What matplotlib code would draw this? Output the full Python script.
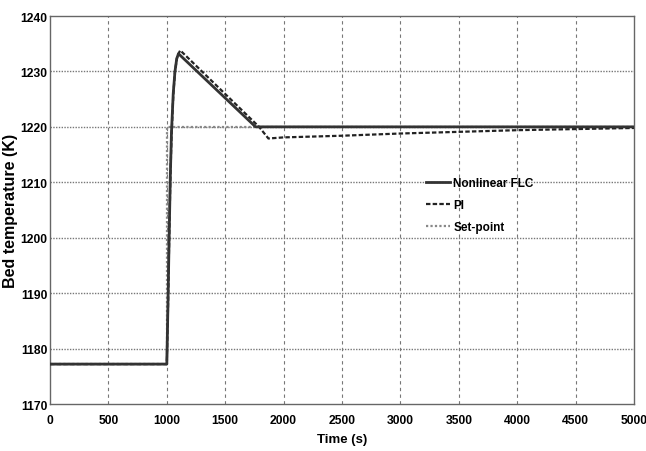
import matplotlib
matplotlib.use("Agg")
import matplotlib.pyplot as plt

plt.rcParams["font.family"] = ["Liberation Sans", "DejaVu Sans"]
plt.rcParams["font.weight"] = "bold"

# Bed temperature responses (time in s, temperature in K)
flc_time = [0, 1000, 1010, 1020, 1030, 1040, 1055, 1070, 1085, 1100, 1760, 5000]
flc_temp = [1177.2, 1177.2, 1188, 1200, 1211, 1219, 1226, 1230, 1232.3, 1233.2, 1220, 1220]

pi_time = [0, 1000, 1010, 1020, 1030, 1040, 1055, 1070, 1090, 1115, 1790, 1870,
           2000, 2500, 3000, 3500, 4000, 4500, 5000]
pi_temp = [1177.2, 1177.2, 1187, 1199, 1210, 1218, 1225.5, 1230, 1232.8, 1233.8, 1220, 1217.9,
           1218.1, 1218.4, 1218.8, 1219.1, 1219.4, 1219.6, 1219.8]

sp_time = [0, 1000, 1000, 5000]
sp_temp = [1177.2, 1177.2, 1220, 1220]

xticks = [0, 500, 1000, 1500, 2000, 2500, 3000, 3500, 4000, 4500, 5000]
yticks = [1170, 1180, 1190, 1200, 1210, 1220, 1230, 1240]

fig = plt.figure(figsize=(6.46, 4.52), dpi=100)
ax = fig.add_axes([50 / 646, 47 / 452, 584 / 646, 388 / 452])

# grid: dashed verticals, dotted horizontals
for x in xticks[1:-1]:
    ax.axvline(x, color="#777777", linestyle=(0, (3, 3)), linewidth=0.8, zorder=0)
for y in yticks[1:-1]:
    ax.axhline(y, color="#777777", linestyle=(0, (1, 1)), linewidth=1.0, zorder=0)

ax.plot(sp_time, sp_temp, color="#888888", linestyle=(0, (1, 1)), linewidth=1.6,
        label="Set-point", zorder=2)
ax.plot(pi_time, pi_temp, color="#222222", linestyle=(0, (2, 1)), linewidth=1.6,
        label="PI", zorder=3)
ax.plot(flc_time, flc_temp, color="#333333", linestyle="-", linewidth=2.0,
        label="Nonlinear FLC", zorder=4)

ax.set_xlim(0, 5000)
ax.set_ylim(1170, 1240)
ax.set_xticks(xticks)
ax.set_yticks(yticks)
ax.tick_params(direction="in", length=0, labelsize=8.7)
ax.tick_params(axis="x", pad=7.5)
ax.tick_params(axis="y", pad=2)
for s in ax.spines.values():
    s.set_color("#666666")
    s.set_linewidth(1.0)

ax.set_xlabel("Time (s)", fontsize=9.5, fontweight="bold", labelpad=5)
ax.set_ylabel("Bed temperature (K)", fontsize=11.5, fontweight="bold")
ax.yaxis.set_label_coords(-0.055, 0.5)

handles, labels = ax.get_legend_handles_labels()
order = [2, 1, 0]
ax.legend([handles[i] for i in order], [labels[i] for i in order],
          loc="upper left", bbox_to_anchor=(0.643, 0.585), frameon=False,
          borderpad=0, borderaxespad=0, fontsize=8.5, handlelength=2.1,
          handletextpad=0.25, labelspacing=0.86)

fig.savefig("out.png", dpi=100)
